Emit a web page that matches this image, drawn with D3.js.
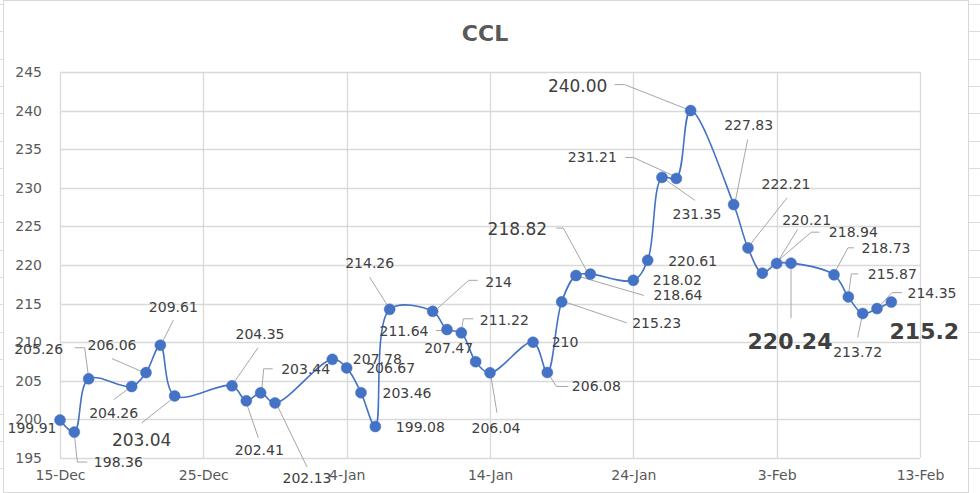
<!DOCTYPE html>
<html>
<head>
<meta charset="utf-8">
<script src="https://cdn.jsdelivr.net/npm/d3@7/dist/d3.min.js"></script>
<style>
  html, body { margin: 0; padding: 0; background: #fff; }
  svg { display: block; }
  text { font-family: "DejaVu Sans", "Noto Sans", sans-serif; }
</style>
</head>
<body>
<svg id="chart" width="980" height="493"></svg>
<script>
// ---- Data ----
const dates = ["2021-12-15","2021-12-16","2021-12-17","2021-12-20","2021-12-21","2021-12-22","2021-12-23",
  "2021-12-27","2021-12-28","2021-12-29","2021-12-30","2022-01-03","2022-01-04","2022-01-05","2022-01-06",
  "2022-01-07","2022-01-10","2022-01-11","2022-01-12","2022-01-13","2022-01-14","2022-01-17","2022-01-18",
  "2022-01-19","2022-01-20","2022-01-21","2022-01-24","2022-01-25","2022-01-26","2022-01-27","2022-01-28",
  "2022-01-31","2022-02-01","2022-02-02","2022-02-03","2022-02-04","2022-02-07","2022-02-08","2022-02-09",
  "2022-02-10","2022-02-11"];
const values = [199.91,198.36,205.26,204.26,206.06,209.61,203.04,
  204.35,202.41,203.44,202.13,207.78,206.67,203.46,199.08,
  214.26,214,211.64,211.22,207.47,206.04,210,206.08,
  215.23,218.64,218.82,218.02,220.61,231.35,231.21,240.00,
  227.83,222.21,218.94,220.21,220.24,218.73,215.87,213.72,
  214.35,215.2];
const valueLabels = ["199.91","198.36","205.26","204.26","206.06","209.61","203.04",
  "204.35","202.41","203.44","202.13","207.78","206.67","203.46","199.08",
  "214.26","214","211.64","211.22","207.47","206.04","210","206.08",
  "215.23","218.64","218.82","218.02","220.61","231.35","231.21","240.00",
  "227.83","222.21","218.94","220.21","220.24","218.73","215.87","213.72",
  "214.35","215.2"];
const xTickDates = ["2021-12-15","2021-12-25","2022-01-04","2022-01-14","2022-01-24","2022-02-03","2022-02-13"];
const xTickLabels = ["15-Dec","25-Dec","4-Jan","14-Jan","24-Jan","3-Feb","13-Feb"];
const yTicks = [195,200,205,210,215,220,225,230,235,240,245];
const title = "CCL";

// ---- Label layout (offsets from each point: text centre, size, weight, leader polyline) ----
const labelLayout = [
  {dx:-28,dy:8},
  {dx:44,dy:30,lead:[[0,2],[3,30],[13,30]]},
  {dx:-50,dy:-30,lead:[[-14,-31],[-4,-31],[0,-1]]},
  {dx:-18,dy:26,lead:[[-18,13],[0,0]]},
  {dx:-34,dy:-28,lead:[[-34,-14],[-4,-1]]},
  {dx:13,dy:-38,lead:[[13,-25],[1,-1]]},
  {dx:-33,dy:44,size:17,lead:[[-33,27],[0,1]]},
  {dx:28,dy:-52,lead:[[26,-38],[1,-2]]},
  {dx:13,dy:49,lead:[[0,2],[12,37]]},
  {dx:45,dy:-24,lead:[[12,-24],[3,-24],[1,-2]]},
  {dx:32,dy:75,lead:[[2,2],[32,64]]},
  {dx:45,dy:0},
  {dx:44,dy:0},
  {dx:46,dy:0},
  {dx:45,dy:0},
  {dx:-20,dy:-46,lead:[[-20,-32],[-1,-2]]},
  {dx:66,dy:-29,lead:[[45,-31],[36,-31],[5,-3]]},
  {dx:-43,dy:1,lead:[[-11,1],[0,1]]},
  {dx:43,dy:-13,lead:[[12,-14],[2,-14],[0,-2]]},
  {dx:-27,dy:-14},
  {dx:6,dy:55,lead:[[1,4],[7,40]]},
  {dx:32,dy:0},
  {dx:49,dy:14,lead:[[1,1],[9,14],[21,14]]},
  {dx:95,dy:21,lead:[[3,0],[65,21]]},
  {dx:102,dy:20,lead:[[3,1],[68,20]]},
  {dx:-73,dy:-45,size:17,lead:[[-34,-46],[-27,-46],[-3,-2]]},
  {dx:44,dy:0},
  {dx:45,dy:1},
  {dx:35,dy:37,lead:[[33,23],[0,0]]},
  {dx:-84,dy:-21,lead:[[-51,-21],[-43,-21],[1,-1]]},
  {dx:-113,dy:-25,size:17,lead:[[-76,-26],[-66,-26],[0,0]]},
  {dx:15,dy:-80,lead:[[14,-65],[1,0]]},
  {dx:38,dy:-64,lead:[[39,-50],[1,-2]]},
  {dx:91,dy:-41,lead:[[57,-41],[49,-41],[1,0]]},
  {dx:30,dy:-43,lead:[[21,-34],[0,0]]},
  {dx:-1,dy:78,size:22,bold:true,lead:[[0,1],[0,55]]},
  {dx:52,dy:-27,lead:[[20,-27],[14,-27],[0,-1]]},
  {dx:44,dy:-23,lead:[[10,-23],[3,-23],[0,-1]]},
  {dx:-5,dy:39,lead:[[0,0],[-5,24]]},
  {dx:55,dy:-16,lead:[[25,-16],[15,-16],[1,-1]]},
  {dx:33,dy:29,size:22,bold:true}
];

// ---- Setup ----
const parse = d3.timeParse("%Y-%m-%d");
const data = dates.map((d, i) => ({date: parse(d), value: values[i], label: valueLabels[i], lay: labelLayout[i]}));

const svg = d3.select("#chart");
const W = 980, H = 493;
const plot = {left: 60, right: 920, top: 72, bottom: 458};

const x = d3.scaleTime()
  .domain([parse(xTickDates[0]), parse(xTickDates[xTickDates.length - 1])])
  .range([plot.left, plot.right]);
const y = d3.scaleLinear().domain([195, 245]).range([plot.bottom, plot.top]);

// background & spreadsheet surroundings
svg.append("rect").attr("width", W).attr("height", H).attr("fill", "#fff");
const cellG = svg.append("g").attr("stroke", "#dcdcdc").attr("stroke-width", 1);
for (let yy = 4; yy < H; yy += 27.3) {
  cellG.append("line").attr("x1", 968).attr("x2", 980).attr("y1", Math.round(yy) + 0.5).attr("y2", Math.round(yy) + 0.5);
  cellG.append("line").attr("x1", 0).attr("x2", 3).attr("y1", Math.round(yy) + 0.5).attr("y2", Math.round(yy) + 0.5);
}
svg.append("rect").attr("x", 3.5).attr("y", 0.5).attr("width", 965).attr("height", 492)
  .attr("fill", "#fff").attr("stroke", "#d9d9d9");

// gridlines
const grid = svg.append("g").attr("stroke", "#d9d9d9").attr("stroke-width", 1.3);
yTicks.forEach(t => {
  grid.append("line").attr("x1", plot.left).attr("x2", plot.right)
    .attr("y1", Math.round(y(t)) + 0.5).attr("y2", Math.round(y(t)) + 0.5);
});
xTickDates.forEach(t => {
  const xx = Math.round(x(parse(t))) + 0.5;
  grid.append("line").attr("x1", xx).attr("x2", xx).attr("y1", plot.top).attr("y2", plot.bottom);
});

// axes (labels only)
const yAxis = d3.axisLeft(y).tickValues(yTicks).tickSize(0).tickPadding(18);
const yG = svg.append("g").attr("transform", `translate(${plot.left},0)`).call(yAxis);
yG.select(".domain").remove();
yG.selectAll("text").attr("fill", "#595959").style("font-size", "14px").style("font-family", "'DejaVu Sans', sans-serif");

const xAxis = d3.axisBottom(x).tickValues(xTickDates.map(parse))
  .tickFormat((d, i) => xTickLabels[i]).tickSize(0).tickPadding(12);
const xG = svg.append("g").attr("transform", `translate(0,${plot.bottom})`).call(xAxis);
xG.select(".domain").remove();
xG.selectAll("text").attr("fill", "#595959").style("font-size", "14px").style("font-family", "'DejaVu Sans', sans-serif");

// title
svg.append("text").attr("x", 485).attr("y", 41).attr("text-anchor", "middle")
  .attr("fill", "#595959").style("font-size", "22px").style("font-weight", "bold").text(title);

// line
const line = d3.line().x(d => x(d.date)).y(d => y(d.value)).curve(d3.curveCatmullRom.alpha(0.5));
svg.append("path").datum(data).attr("d", line)
  .attr("fill", "none").attr("stroke", "#4472C4").attr("stroke-width", 1.6);

// leader lines
const leadG = svg.append("g").attr("fill", "none").attr("stroke", "#a6a6a6").attr("stroke-width", 1);
data.forEach(d => {
  if (!d.lay.lead) return;
  const px = x(d.date), py = y(d.value);
  leadG.append("polyline").attr("points", d.lay.lead.map(p => `${px + p[0]},${py + p[1]}`).join(" "));
});

// markers
svg.append("g").selectAll("circle").data(data).join("circle")
  .attr("cx", d => x(d.date)).attr("cy", d => y(d.value)).attr("r", 5.5)
  .attr("fill", "#4472C4").attr("stroke", "#4472C4").attr("stroke-width", 0.5);

// data labels
svg.append("g").selectAll("text").data(data).join("text")
  .attr("x", d => x(d.date) + d.lay.dx)
  .attr("y", d => y(d.value) + d.lay.dy)
  .attr("text-anchor", "middle").attr("dominant-baseline", "central")
  .attr("fill", "#404040")
  .style("font-size", d => (d.lay.size || 14) + "px")
  .style("font-weight", d => d.lay.bold ? "bold" : "normal")
  .text(d => d.label);
</script>
</body>
</html>
